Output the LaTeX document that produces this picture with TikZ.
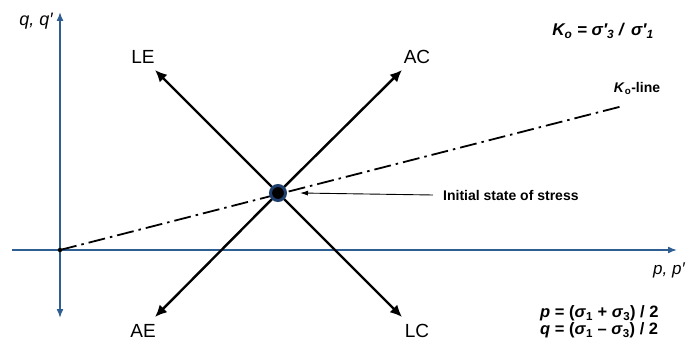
\documentclass[tikz,border=0pt]{standalone}
\usepackage{fontspec}
\setmainfont{Liberation Sans}
\usetikzlibrary{arrows.meta,positioning}
\definecolor{tengelykek}{HTML}{2F5F92}
\definecolor{pontkek}{HTML}{1E3F6E}
\tikzset{
  tengely/.style={draw=tengelykek,line width=1.6pt,-{Latex[length=9pt,width=7pt]}},
  nyil/.style={line width=2.4pt,-{Latex[length=12pt,width=11pt]}},
  kvonal/.style={line width=1.8pt,dash pattern=on 17pt off 5pt on 2.5pt off 5pt},
  vek/.style={line width=0.9pt,-{Latex[length=8pt,width=5pt]}},
  felirat/.style={font=\fontsize{19}{19}\selectfont,inner sep=0pt},
  tfel/.style={font=\fontsize{18}{18}\selectfont\itshape,inner sep=0pt},
  kicsi/.style={font=\fontsize{14}{15}\selectfont\bfseries,inner sep=0pt},
  allapot/.style={circle,fill=black,draw=pontkek,line width=3pt,minimum size=15pt,inner sep=0pt},
  pont/.style={circle,fill,inner sep=1.6pt},
}
\begin{document}
\begin{tikzpicture}[x=1pt,y=-1pt]
  \useasboundingbox[fill=white] (0,0) rectangle (686,342);
  % axes
  \coordinate (o) at (60,250);
  \coordinate (xbal) at (12,250);
  \coordinate (xjobb) at (677,250);
  \coordinate (yfel) at (60,12);
  \coordinate (yle) at (60,318);
  \draw[tengely] (xbal) -- (xjobb);
  \draw[tengely] (o) -- (yfel);
  \draw[tengely] (o) -- (yle);
  \node[tfel] (qlab) at (36,21) {q, q′};
  \node[tfel,font=\fontsize{17}{17}\selectfont\itshape,anchor=west] (plab) at (653,270) {p, p′};
  % stress paths
  \coordinate (c) at (278,193);
  \coordinate (le) at (155,70);
  \coordinate (ac) at (402,70);
  \coordinate (ae) at (155,317);
  \coordinate (lc) at (402,317);
  \coordinate (kv) at (623,106);
  \draw[kvonal] (o) -- (kv);
  \draw[nyil] (c) -- (le);
  \draw[nyil] (c) -- (ac);
  \draw[nyil] (c) -- (ae);
  \draw[nyil] (c) -- (lc);
  \node[pont] (onode) at (o) {};
  \node[allapot] (cnode) at (c) {};
  \node[felirat] (lelab) at (143,57) {LE};
  \node[felirat] (aclab) at (417,57) {AC};
  \node[felirat] (aelab) at (143,331) {AE};
  \node[felirat] (lclab) at (417,331) {LC};
  % labels
  \node[kicsi,anchor=west] (init) at (443,195) {Initial state of stress};
  \draw[vek] ([xshift=-10pt]init.west) -- ([xshift=22pt]cnode.center);
  \node[kicsi,anchor=south] (kvlab) at (637,95) {\textit{K}\textsubscript{o}-line};
  \node[kicsi,font=\fontsize{17}{17}\selectfont\bfseries\itshape] (k0) at (603,31)
    {K\textsubscript{o} = σ′\textsubscript{3} /\, σ′\textsubscript{1}};
  \node[kicsi,font=\fontsize{16.5}{17}\selectfont\bfseries,anchor=west,align=left] (pq) at (540,322)
    {\textit{p} = (\textit{σ}\textsubscript{1} + \textit{σ}\textsubscript{3}) / 2\\
     \textit{q} = (\textit{σ}\textsubscript{1} – \textit{σ}\textsubscript{3}) / 2};
\end{tikzpicture}
\end{document}
